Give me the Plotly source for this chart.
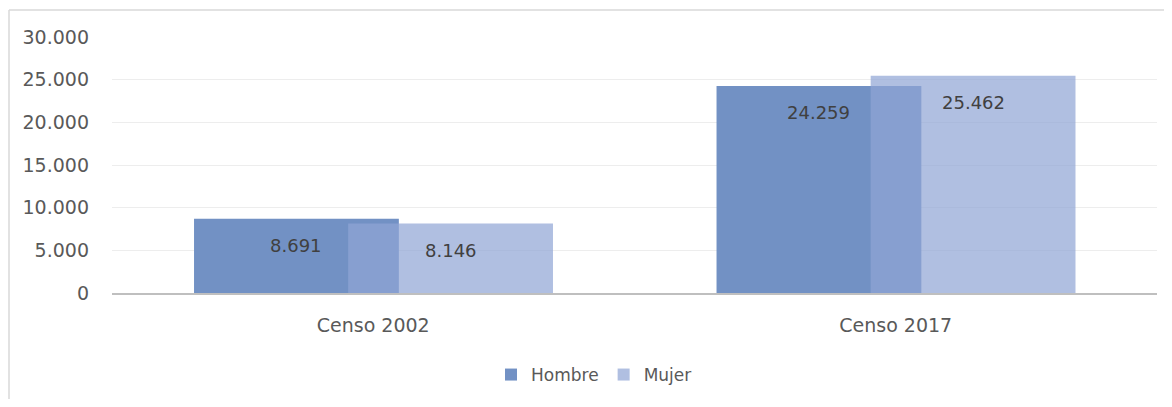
import plotly.graph_objects as go

categories = ["Censo 2002", "Censo 2017"]
hombre = [8691, 24259]
mujer = [8146, 25462]
series_names = ["Hombre", "Mujer"]

BAR_W = 0.392
OFF_H = -0.343
OFF_M = -0.048
FONT = "DejaVu Sans"
TXT = "#595959"

fig = go.Figure()
fig.add_trace(go.Bar(
    x=categories, y=hombre, name=series_names[0],
    marker=dict(color="rgb(114,145,196)", line=dict(width=0)),
    width=BAR_W, offset=OFF_H,
))
fig.add_trace(go.Bar(
    x=categories, y=mujer, name=series_names[1],
    marker=dict(color="rgba(144,165,213,0.71)", line=dict(width=0)),
    width=BAR_W, offset=OFF_M,
))

def fmt(v):
    return f"{v:,}".replace(",", ".")

for i, (h, m) in enumerate(zip(hombre, mujer)):
    for val, off in ((h, OFF_H), (m, OFF_M)):
        fig.add_annotation(
            x=i + off + BAR_W / 2, y=val, xref="x", yref="y",
            text=fmt(val), showarrow=False, yshift=-27,
            font=dict(family=FONT, size=18, color="#404040"),
        )

# page body has an 8px margin, so the figure starts at (8, 8)
W, H = 1164, 391
L, R, T, B = 104, 15, 29, 106
PH = H - T - B
PW = W - L - R

border = dict(color="#D9D9D9", width=1.5)
fig.update_layout(
    width=W, height=H,
    margin=dict(l=L, r=R, t=T, b=B, autoexpand=False),
    paper_bgcolor="white", plot_bgcolor="white",
    barmode="overlay",
    separators=",.",
    font=dict(family=FONT, color=TXT),
    showlegend=True,
    legend=dict(
        orientation="h", x=(491 - 112) / PW, xanchor="left",
        y=-(375 - 293) / PH, yanchor="middle",
        font=dict(family=FONT, size=17, color=TXT),
        itemwidth=30, traceorder="normal",
    ),
    xaxis=dict(
        type="category", range=[-0.5, 1.5],
        showgrid=False, showline=True, linecolor="#BFBFBF", linewidth=2,
        ticks="", tickfont=dict(family=FONT, size=19, color=TXT),
        ticklabelstandoff=14,
    ),
    yaxis=dict(
        range=[0, 30000], dtick=5000, tickformat=",d",
        showgrid=True, gridcolor="#EDEDED", gridwidth=1,
        zeroline=False, showline=False, ticks="",
        tickfont=dict(family=FONT, size=19, color=TXT),
        ticklabelstandoff=22,
    ),
    shapes=[
        dict(type="line", xref="paper", yref="paper",
             x0=(1 - L) / PW, x1=(W - L) / PW,
             y0=(293 - 10) / PH, y1=(293 - 10) / PH, line=border, layer="below"),
        dict(type="line", xref="paper", yref="paper",
             x0=(1 - L) / PW, x1=(1 - L) / PW,
             y0=-(H - T - PH) / PH, y1=(293 - 10) / PH, line=border, layer="below"),
    ],
)

fig.write_html("out.html")
